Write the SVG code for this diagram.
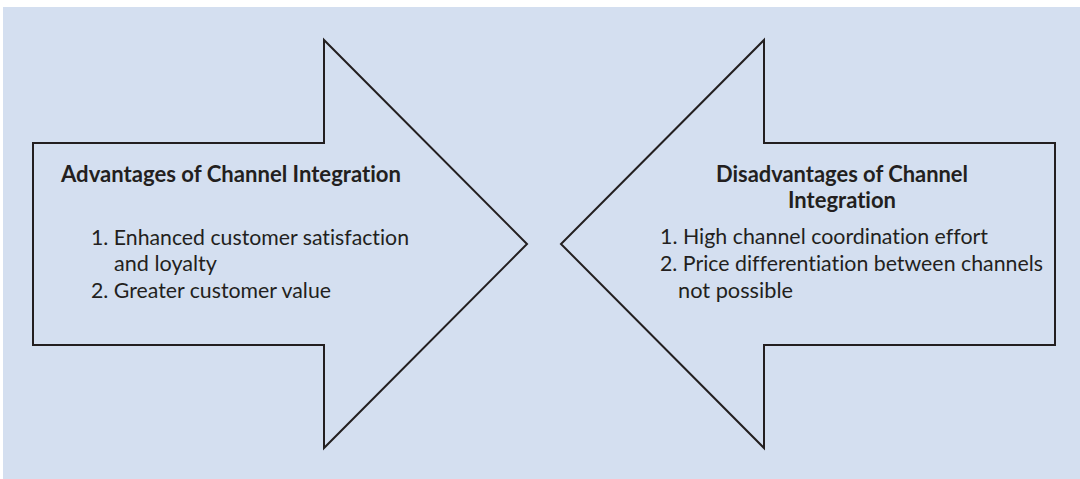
<svg xmlns="http://www.w3.org/2000/svg" width="1080" height="479" viewBox="0 0 1080 479">
<style>
.bg{fill:#d4dff0}
.arrow{fill:#d4dff0;stroke:#231f20;stroke-width:2;stroke-linejoin:miter}
text{font-family:"Lato","Liberation Sans",sans-serif;fill:#231f20;font-variant-ligatures:none;font-feature-settings:"liga" 0,"dlig" 0}
.t{font-weight:bold;font-size:22px}
.i{font-size:21.3px}
</style>
<rect x="0" y="0" width="1080" height="479" fill="#ffffff"/>
<rect class="bg" x="3" y="7" width="1077" height="472"/>
<g id="advantages">
<polygon class="arrow" points="33,143 324,143 324,40 527,244 324,448 324,345 33,345"/>
<text class="t" x="61" y="182" textLength="340" lengthAdjust="spacingAndGlyphs">Advantages of Channel Integration</text>
<text class="i" x="91" y="245" textLength="318" lengthAdjust="spacingAndGlyphs">1. Enhanced customer satisfaction</text>
<text class="i" x="114" y="271" textLength="103" lengthAdjust="spacingAndGlyphs">and loyalty</text>
<text class="i" x="91" y="298" textLength="240" lengthAdjust="spacingAndGlyphs">2. Greater customer value</text>
</g>
<g id="disadvantages">
<polygon class="arrow" points="1055,143 764,143 764,40 561,244 764,448 764,345 1055,345"/>
<text class="t" x="716" y="182" textLength="252" lengthAdjust="spacingAndGlyphs">Disadvantages of Channel</text>
<text class="t" x="788" y="208" textLength="108" lengthAdjust="spacingAndGlyphs">Integration</text>
<text class="i" x="660" y="244" textLength="328" lengthAdjust="spacingAndGlyphs">1. High channel coordination effort</text>
<text class="i" x="660" y="271" textLength="383" lengthAdjust="spacingAndGlyphs">2. Price differentiation between channels</text>
<text class="i" x="678" y="298" textLength="115" lengthAdjust="spacingAndGlyphs">not possible</text>
</g>
<g id="connectors"></g>
</svg>
